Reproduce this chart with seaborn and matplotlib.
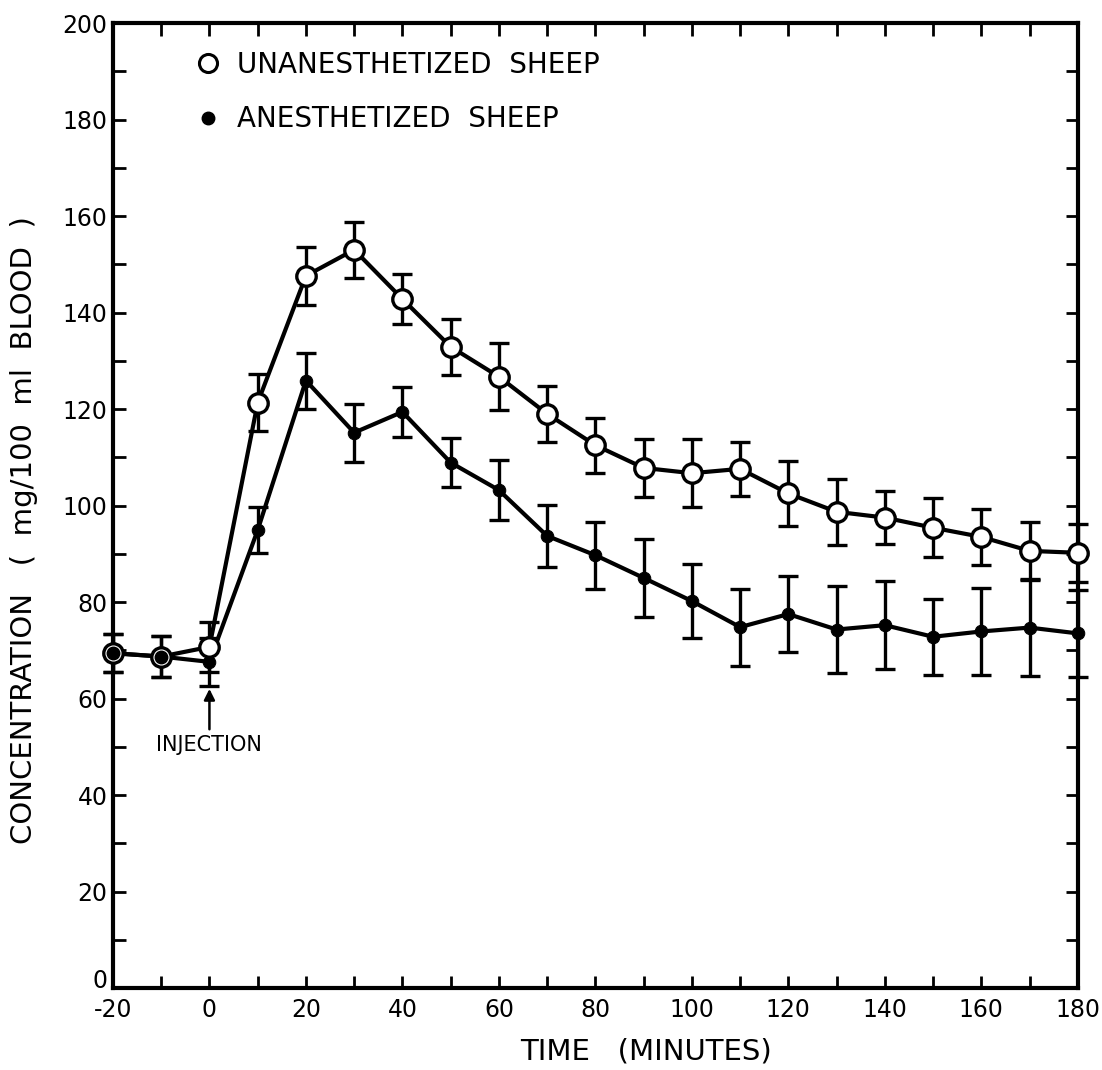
import matplotlib
matplotlib.use('Agg')
import matplotlib.pyplot as plt
from matplotlib.lines import Line2D
from matplotlib.ticker import MultipleLocator
import pandas as pd
import seaborn as sns

sns.set_theme(style='ticks')
plt.rcParams['font.family'] = ['DejaVu Sans']
plt.rcParams['axes.unicode_minus'] = False
for key in ['text.color', 'axes.labelcolor', 'xtick.color', 'ytick.color']:
    plt.rcParams[key] = 'black'

# values
time_min = [-20, -10, 0, 10, 20, 30, 40, 50, 60, 70, 80, 90, 100,
            110, 120, 130, 140, 150, 160, 170, 180]
unanesth = [69.4, 68.7, 70.7, 121.3, 147.6, 153.0, 142.8, 132.9, 126.7, 119.0,
            112.5, 107.8, 106.7, 107.6, 102.5, 98.7, 97.5, 95.4, 93.5, 90.6, 90.2]
unanesth_err = [4.0, 4.2, 5.2, 5.9, 6.0, 5.8, 5.2, 5.8, 6.9, 5.8, 5.7,
                6.0, 7.0, 5.6, 6.7, 6.9, 5.5, 6.1, 5.8, 6.0, 6.0]
anesth = [69.4, 68.7, 67.6, 94.9, 125.9, 115.1, 119.4, 108.9, 103.2, 93.7,
          89.7, 85.0, 80.2, 74.8, 77.5, 74.3, 75.2, 72.8, 73.9, 74.7, 73.5]
anesth_err = [4.0, 4.2, 5.0, 4.8, 5.8, 6.0, 5.2, 5.0, 6.2, 6.4, 6.9,
              8.1, 7.7, 8.0, 7.9, 9.1, 9.1, 7.9, 9.0, 10.0, 9.0]

series_labels = ['UNANESTHETIZED  SHEEP', 'ANESTHETIZED  SHEEP']

df = pd.DataFrame({'time': time_min, 'unanesth': unanesth, 'anesth': anesth})

fig, ax = plt.subplots(figsize=(11.02, 10.70), dpi=100)
fig.subplots_adjust(left=0.1025, right=0.978, bottom=0.0766, top=0.9785)

# error bars first so the markers sit on top
ax.errorbar(df['time'], df['unanesth'], yerr=unanesth_err, fmt='none',
            ecolor='black', elinewidth=2.4, capsize=7, capthick=2.4,
            clip_on=False, zorder=2)
ax.errorbar(df['time'], df['anesth'], yerr=anesth_err, fmt='none',
            ecolor='black', elinewidth=2.4, capsize=7, capthick=2.4,
            clip_on=False, zorder=2)

sns.lineplot(data=df, x='time', y='anesth', ax=ax, color='black', lw=3,
             marker='o', markersize=9, markerfacecolor='black',
             markeredgecolor='black', clip_on=False, zorder=3)
sns.lineplot(data=df, x='time', y='unanesth', ax=ax, color='black', lw=3,
             marker='o', markersize=14, markerfacecolor='white',
             markeredgecolor='black', markeredgewidth=2.4, clip_on=False,
             zorder=4)
# filled dots show through the open circles where both series coincide
ax.plot(df['time'][:2], df['anesth'][:2], 'o', color='black', ms=9,
        clip_on=False, zorder=5)

ax.set_xlim(-20, 180)
ax.set_ylim(0, 200)
ax.xaxis.set_major_locator(MultipleLocator(20))
ax.xaxis.set_minor_locator(MultipleLocator(10))
ax.yaxis.set_major_locator(MultipleLocator(20))
ax.yaxis.set_minor_locator(MultipleLocator(10))
ax.tick_params(which='both', direction='in', top=True, right=True,
               length=9, width=2, color='black')
ax.tick_params(which='major', labelsize=17)
ax.tick_params(axis='x', which='major', pad=7)
ax.tick_params(axis='y', which='major', pad=4)
for spine in ax.spines.values():
    spine.set_linewidth(3)
    spine.set_color('black')

ax.set_xlabel('TIME   (MINUTES)', fontsize=21)
ax.set_ylabel('CONCENTRATION   (  mg/100  ml  BLOOD  )', fontsize=21)
ax.xaxis.set_label_coords(0.552, -0.051)
ax.yaxis.set_label_coords(-0.078, 0.475)

# lift the "0" on the y axis so it clears the "-20" below it
fig.canvas.draw()
for tick in ax.yaxis.get_major_ticks():
    if tick.get_loc() == 0:
        tick.label1.set_verticalalignment('baseline')

ax.annotate('INJECTION', xy=(0, 62), xytext=(0, 50.3), ha='center',
            va='center', fontsize=15,
            arrowprops=dict(arrowstyle='-|>', color='black', lw=1.8,
                            mutation_scale=16, shrinkA=2, shrinkB=0))

handles = [
    Line2D([], [], ls='none', marker='o', ms=13, mfc='white', mec='black',
           mew=2.2),
    Line2D([], [], ls='none', marker='o', ms=9, mfc='black', mec='black'),
]
ax.legend(handles, series_labels, loc='upper left',
          bbox_to_anchor=(0.058, 0.997), frameon=False, fontsize=20,
          handlelength=1.0, handletextpad=0.55, labelspacing=0.95)

fig.savefig('out.png', dpi=100)
